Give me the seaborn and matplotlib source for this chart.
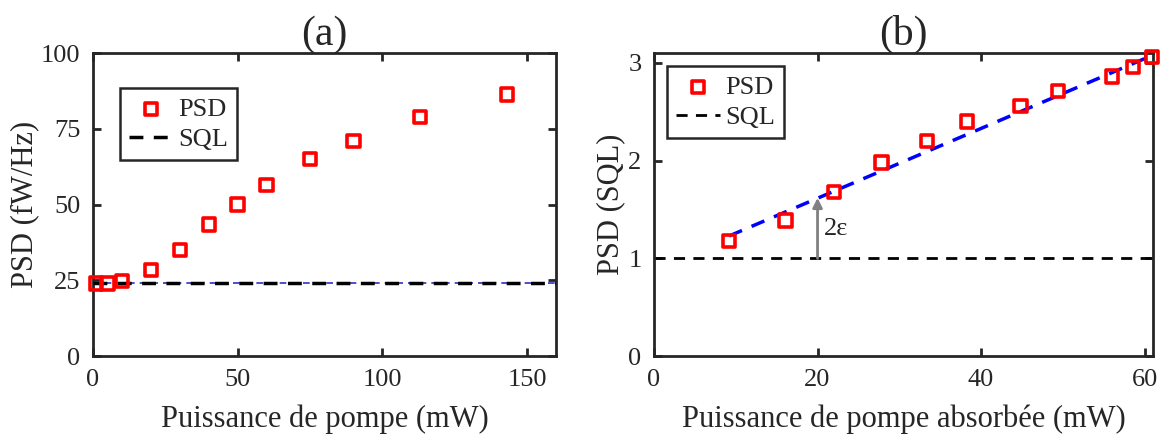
import matplotlib
matplotlib.use("Agg")
import matplotlib.pyplot as plt
import seaborn as sns
import pandas as pd

# ---- data panel (a) ----
pump_a = [1, 5, 10, 20, 30, 40, 50, 60, 75, 90, 113, 143]
psd_a = [24.0, 24.0, 24.8, 28.5, 35.0, 43.5, 50.0, 56.5, 65.0, 71.0, 79.0, 86.3]
sql_a = 24.0

# ---- data panel (b) ----
pump_b = [9.2, 16.1, 22.0, 27.8, 33.4, 38.3, 44.8, 49.4, 56.0, 58.6, 60.9]
psd_b = [1.18, 1.39, 1.68, 1.98, 2.20, 2.40, 2.56, 2.71, 2.86, 2.96, 3.06]
fit_x = [9.2, 61.0]
fit_y = [1.23, 3.08]
sql_b = 1.0
arrow_x = 20
arrow_y = [1.0, 1.62]

xticks_a = [0, 50, 100, 150]
yticks_a = [0, 25, 50, 75, 100]
xticks_b = [0, 20, 40, 60]
yticks_b = [0, 1, 2, 3]

sns.set_style("ticks")
plt.rcParams['font.family'] = ['Liberation Serif', 'DejaVu Serif']

fig = plt.figure(figsize=(11.63, 4.43), dpi=100)
ax1 = fig.add_axes([0.080, 0.196, 0.398, 0.684])
ax2 = fig.add_axes([0.5623, 0.196, 0.429, 0.684])

spine_col = '#262626'
fs_tick = 19
fs_leg = 19
fs_lab = 22
fs_title = 30

df_a = pd.DataFrame({'x': pump_a, 'y': psd_a})
df_b = pd.DataFrame({'x': pump_b, 'y': psd_b})

# panel (a)
ax1.axhline(sql_a, color='#3030c0', lw=1.2, ls=(0, (4, 3)), zorder=2)
ax1.axhline(sql_a, color='black', lw=2.5, ls=(0, (4, 3)), zorder=3, label='SQL')
sns.scatterplot(data=df_a, x='x', y='y', ax=ax1, marker='s', s=80,
                facecolor='none', edgecolor='red', linewidth=2.6,
                label='PSD', zorder=4, clip_on=False)
ax1.set_xlim(0, 160)
ax1.set_ylim(0, 100)
ax1.set_xticks(xticks_a)
ax1.set_yticks(yticks_a)
ax1.set_xlabel('Puissance de pompe (mW)', fontsize=fs_lab, labelpad=10)
ax1.set_ylabel('PSD (fW/Hz)', fontsize=fs_lab, labelpad=1)
ax1.set_title('(a)', fontsize=fs_title, pad=6)
h, l = ax1.get_legend_handles_labels()
order = [l.index('PSD'), l.index('SQL')]
leg1 = ax1.legend([h[i] for i in order], [l[i] for i in order],
                  loc='upper left', bbox_to_anchor=(0.058, 0.884),
                  borderaxespad=0, framealpha=1,
                  fontsize=fs_leg, frameon=True, fancybox=False,
                  edgecolor=spine_col, handlelength=1.65, handletextpad=0.2,
                  borderpad=0.35, labelspacing=0.25)
leg1.get_frame().set_linewidth(1.8)

# panel (b)
ax2.axhline(sql_b, color='black', lw=2, ls=(0, (4, 3)), zorder=2, label='SQL')
sns.lineplot(x=fit_x, y=fit_y, ax=ax2, color='blue', lw=2.5,
             linestyle=(0, (4, 3)), zorder=3)
sns.scatterplot(data=df_b, x='x', y='y', ax=ax2, marker='s', s=80,
                facecolor='none', edgecolor='red', linewidth=2.6,
                label='PSD', zorder=4, clip_on=False)
ax2.annotate('', xy=(arrow_x, arrow_y[1]), xytext=(arrow_x, arrow_y[0]),
             arrowprops=dict(arrowstyle='-|>', color='#808080', lw=2,
                             mutation_scale=14, shrinkA=0, shrinkB=0), zorder=3)
ax2.text(arrow_x + 0.8, 1.30, '2ε', fontsize=fs_tick, va='center', ha='left')
ax2.set_xlim(0, 61)
ax2.set_ylim(0, 3.1)
ax2.set_xticks(xticks_b)
ax2.set_yticks(yticks_b)
ax2.set_xlabel('Puissance de pompe absorbée (mW)', fontsize=fs_lab, labelpad=10)
ax2.set_ylabel('PSD (SQL)', fontsize=fs_lab, labelpad=2)
ax2.set_title('(b)', fontsize=fs_title, pad=6)
h, l = ax2.get_legend_handles_labels()
order = [l.index('PSD'), l.index('SQL')]
leg2 = ax2.legend([h[i] for i in order], [l[i] for i in order],
                  loc='upper left', bbox_to_anchor=(0.026, 0.957),
                  borderaxespad=0, framealpha=1,
                  fontsize=fs_leg, frameon=True, fancybox=False,
                  edgecolor=spine_col, handlelength=1.65, handletextpad=0.2,
                  borderpad=0.35, labelspacing=0.25)
leg2.get_frame().set_linewidth(1.8)

for ax in (ax1, ax2):
    for s in ax.spines.values():
        s.set_visible(True)
        s.set_color(spine_col)
        s.set_linewidth(2)
    ax.tick_params(direction='in', length=6, width=2, colors=spine_col,
                   labelcolor='#262626', labelsize=fs_tick, top=True, right=True,
                   pad=9)
    ax.set_facecolor('white')

fig.savefig('out.png', dpi=100, facecolor='white')
